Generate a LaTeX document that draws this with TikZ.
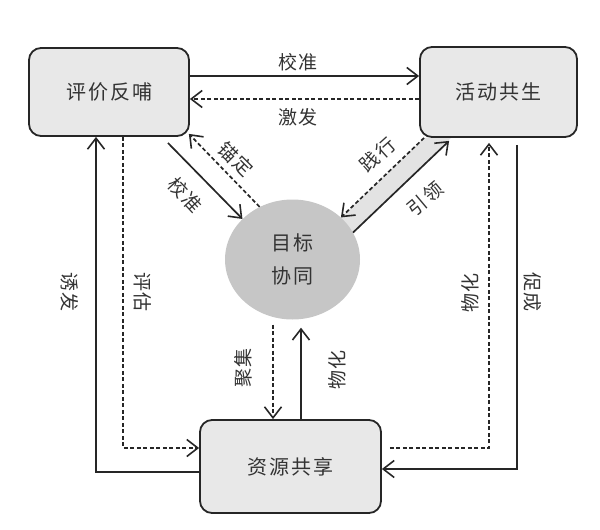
\documentclass[tikz,border=0pt]{standalone}
\usepackage{fontspec}
\setmainfont[LetterSpace=10]{Noto Sans CJK SC}
\usetikzlibrary{arrows.meta,shapes.geometric,backgrounds}

\begin{document}
\begin{tikzpicture}[x=1pt, y=-1pt,
        box/.style={rectangle, rounded corners=12pt, draw=black!85, line width=1.8pt, fill=gray!18, text=black!80, font=\fontsize{20}{24}\selectfont},
        goalnode/.style={ellipse, fill=gray!45, minimum width=135pt, minimum height=120pt, inner sep=0pt, align=center, text=black!80, font=\fontsize{20}{33}\selectfont},
        arr/.style={line width=1.7pt, draw=black!85, -{Straight Barb[length=11pt, width=17pt, line width=1.6pt]}},
        dsh/.style={arr, dash pattern=on 4pt off 2.5pt},
        lbl/.style={text=black!80, inner sep=1pt, font=\fontsize{19}{22}\selectfont}
    ]
    \useasboundingbox (0,0) rectangle (600,530);

    \node[box, minimum width=160pt, minimum height=88pt] (eval) at (109,92) {评价反哺};
    \node[box, minimum width=157pt, minimum height=90pt] (act) at (498.5,92) {活动共生};
    \node[box, minimum width=181pt, minimum height=93pt] (res) at (290.5,466.5) {资源共享};
    \node[goalnode] (goal) at (292.5,259.5) {目标\\协同};

    \begin{scope}[on background layer]
        \fill[gray!22] ([xshift=5pt]act.south west) -- ([xshift=32pt]act.south west) -- (goal.24) -- (goal.41) -- cycle;
    \end{scope}

    \draw[arr] ([yshift=16pt]eval.east) -- ([yshift=16pt]act.west);
    \draw[dsh] ([yshift=-7pt]act.west) -- ([yshift=-7pt]eval.east);
    \draw[arr] ([shift={(-22,6)}]eval.south east) -- (goal.141);
    \draw[dsh] (goal.122) -- ([shift={(-1,-3)}]eval.south east);
    \draw[dsh] ([xshift=5pt]act.south west) -- (goal.41);
    \draw[arr] (goal.24) -- ([shift={(30,3)}]act.south west);

    \draw[arr] ([yshift=-5.5pt]res.west) -| ([xshift=-13pt]eval.south);
    \draw[dsh] ([xshift=14pt]eval.south) |- ([yshift=18.5pt]res.west);

    \coordinate (g1) at ([xshift=-17.5pt]res.north);
    \coordinate (g2) at ([xshift=10.5pt]res.north);
    \draw[dsh, shorten <=5pt] (g1 |- goal.south) -- (g1);
    \draw[arr, shorten >=8pt] (g2) -- (g2 |- goal.south);

    \draw[dsh, shorten <=8pt, shorten >=5pt] ([yshift=18.5pt]res.east) -| ([xshift=-9.5pt]act.south);
    \draw[arr, shorten <=7pt] ([xshift=18.5pt]act.south) |- ([yshift=-2.5pt]res.east);

    \node[lbl] (jz1) at (298,62) {校准};
    \node[lbl] (jf) at (298,117) {激发};
    \node[lbl, rotate=-47] (jz2) at (185,195) {校准};
    \node[lbl, rotate=-45] (md) at (236,159) {锚定};
    \node[lbl, rotate=42] (jx) at (378,155) {践行};
    \node[lbl, rotate=40] (yl) at (425,199) {引领};
    \node[lbl, rotate=-90] (yf) at (70,292) {诱发};
    \node[lbl, rotate=-90] (pg) at (143,292) {评估};
    \node[lbl, rotate=90] (jj) at (243,368) {聚集};
    \node[lbl, rotate=90] (wh1) at (337,370) {物化};
    \node[lbl, rotate=90] (wh2) at (470,293) {物化};
    \node[lbl, rotate=-90] (cc) at (533,292) {促成};
\end{tikzpicture}
\end{document}
